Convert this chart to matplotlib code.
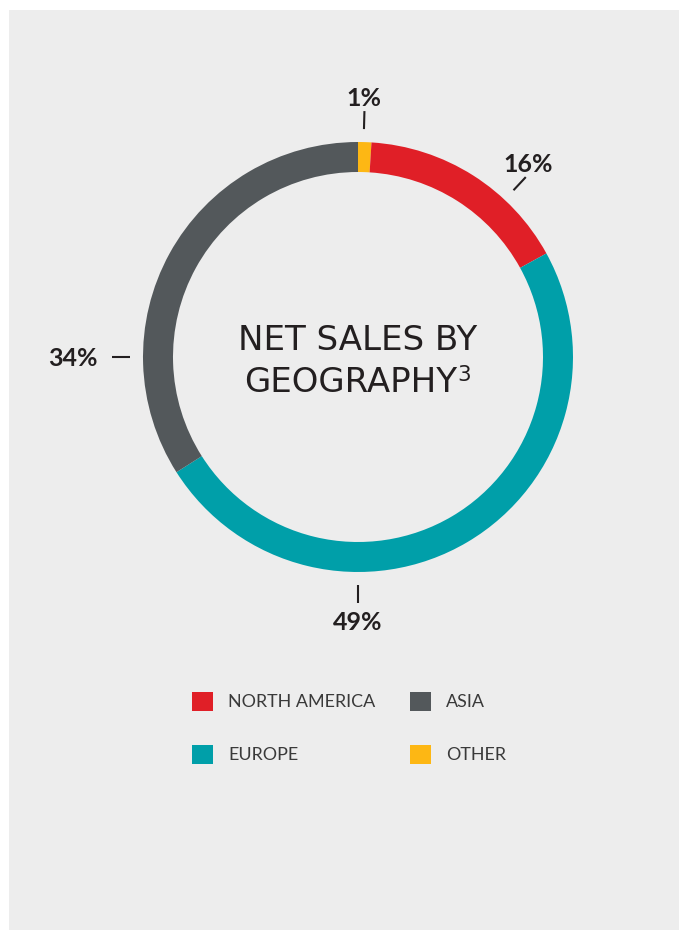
import numpy as np
import matplotlib
matplotlib.use("Agg")
import matplotlib.pyplot as plt
from matplotlib.patches import Rectangle

# Net sales share by region (percent), clockwise from 12 o'clock
regions = ["OTHER", "NORTH AMERICA", "EUROPE", "ASIA"]
shares = [1, 16, 49, 34]
colors = ["#FDB714", "#E01F27", "#009FA9", "#53585B"]

# Legend layout order
legend_order = ["NORTH AMERICA", "ASIA", "EUROPE", "OTHER"]

W, H = 679, 930
BG = "#EDEDED"
TXT = "#231F20"

fig = plt.figure(figsize=(W / 100, H / 100), dpi=100)
fig.patch.set_facecolor("white")
ax = fig.add_axes([0, 0, 1, 1])


def py(y):
    """Convert a top-down pixel row into the axes' y coordinate."""
    return H - y


# donut
cx, cy = 358, py(357)
R, width = 215, 30
wedges, _ = ax.pie(shares, colors=colors, startangle=90, counterclock=False,
                   radius=R, center=(cx, cy), frame=True,
                   wedgeprops=dict(width=width, edgecolor="none", linewidth=0))
ax.set_xlim(0, W)
ax.set_ylim(0, H)
ax.set_aspect("equal")
ax.axis("off")

# panel behind everything
ax.add_patch(Rectangle((9, 0), W - 9, H - 10, facecolor=BG, edgecolor="none", zorder=0))

# callout labels: (angle of tick in degrees, label centre in px)
callouts = {
    "OTHER": (88.5, (364, 99)),
    "NORTH AMERICA": (47, (528, 164)),
    "EUROPE": (-90, (358, 622)),
    "ASIA": (180, (73, 358)),
}
r0, r1 = 228, 246
for name, val in zip(regions, shares):
    ang, (lx, ly) = callouts[name]
    a = np.deg2rad(ang)
    ax.plot([cx + r0 * np.cos(a), cx + r1 * np.cos(a)],
            [cy + r0 * np.sin(a), cy + r1 * np.sin(a)],
            color=TXT, lw=1.5, solid_capstyle="butt")
    ax.text(lx, py(ly), f"{val}%", ha="center", va="center", fontsize=18,
            fontweight="bold", family="Lato", color=TXT)

# title in the hole, with a footnote marker set as a superscript
TITLE_FS = 24.5
ax.text(cx, py(350), "NET SALES BY", ha="center", va="baseline",
        fontsize=TITLE_FS, family="DejaVu Sans", color=TXT)
renderer = fig.canvas.get_renderer()
line2 = ax.text(0, py(392), "GEOGRAPHY", ha="left", va="baseline",
                fontsize=TITLE_FS, family="DejaVu Sans", color=TXT)
sup = ax.text(0, py(381), "3", ha="left", va="baseline", fontsize=15.5,
              family="DejaVu Sans", color=TXT)
w_main = line2.get_window_extent(renderer).width
w_sup = sup.get_window_extent(renderer).width
gap = 0
x0 = cx - (w_main + gap + w_sup) / 2
line2.set_x(x0)
sup.set_x(x0 + w_main + gap)

# legend
color_of = dict(zip(regions, colors))
legend_pos = [(192, 702), (410, 702), (192, 755), (410, 755)]
for name, (lx, ly) in zip(legend_order, legend_pos):
    ax.add_patch(Rectangle((lx, py(ly) - 9.5), 21, 19, facecolor=color_of[name],
                           edgecolor="none"))
    ax.text(lx + 36, py(ly), name, ha="left", va="center", fontsize=12.9,
            family="Lato", color="#3A3A3A")

fig.savefig("out.png", dpi=100, facecolor=fig.get_facecolor())
